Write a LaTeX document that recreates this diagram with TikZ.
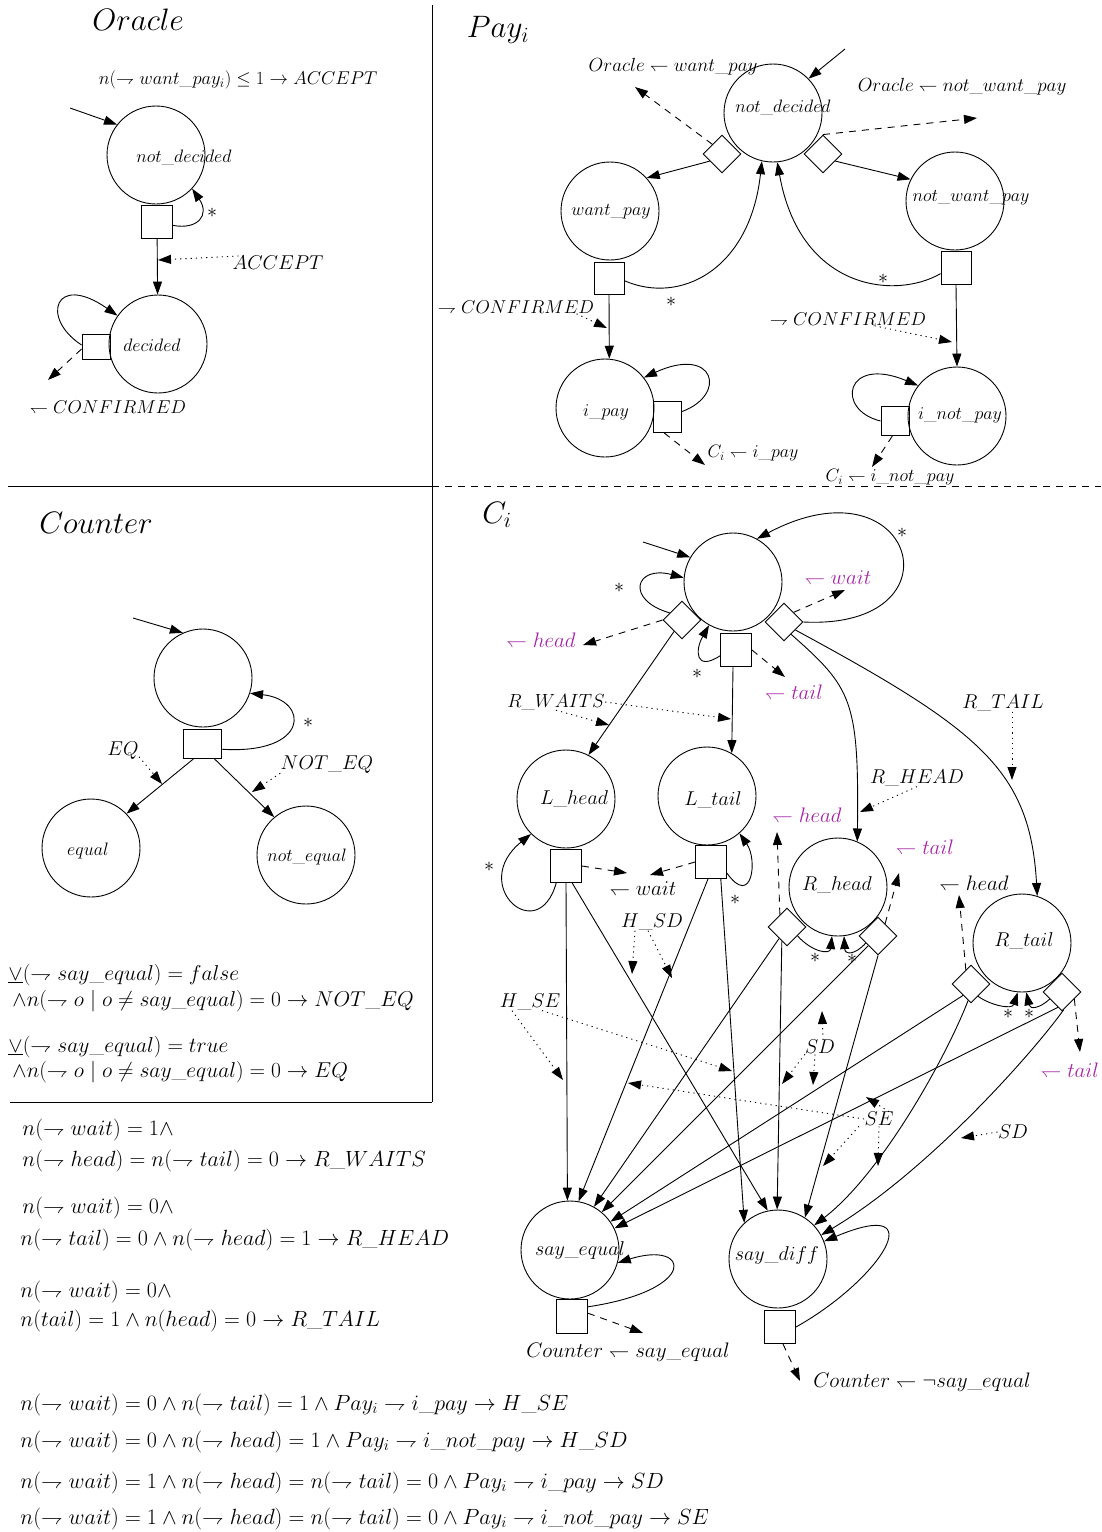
\documentclass[tikz,border=0pt]{standalone}
\usepackage{fix-cm}
\usetikzlibrary{arrows.meta,shapes.geometric}
\definecolor{tokmag}{RGB}{165,35,165}
\newcommand{\setfs}[1]{\fontsize{#1}{#1}\selectfont}
\tikzset{
  arr/.style={-{Triangle[length=13pt,width=9pt]}},
  dasharr/.style={arr,dash pattern=on 7pt off 6pt},
  dotarr/.style={arr,dash pattern=on 1.2pt off 4pt},
  st/.style={circle,draw,minimum size=98pt,inner sep=0pt},
  sq/.style={rectangle,draw,minimum width=30pt,minimum height=33pt,inner sep=0pt},
  dia/.style={diamond,draw,aspect=1,minimum size=38pt,inner sep=0pt},
  lbl/.style={inner sep=0pt,font=\setfs{#1}},
  lbl/.default=20,
  mlbl/.style={lbl=21,text=tokmag},
  frm/.style={inner sep=0pt,anchor=west,font=\setfs{#1}},
  frm/.default=22,
}
\begin{document}
\begin{tikzpicture}[x=1pt,y=-1pt,line width=0.9pt]
\useasboundingbox (0,0) rectangle (1101,1532);
% panel rules
\draw (432,5) -- (432,1102);
\draw (8,486) -- (432,486);
\draw[dash pattern=on 7pt off 6pt] (432,486) -- (1101,486);
\draw (10,1102) -- (432,1102);

%%%%%%%% Oracle
\node[lbl=31] (o-title) at (138,20) {$Oracle$};
\node[lbl=18.5] (o-rule) at (238,80) {$n(\rightharpoondown want\_pay_i) \leq 1 \rightarrow ACCEPT$};
\node[st] (o-nd) at (156,155) {};
\node[lbl=18] (o-nd-t) at (184,157) {$not\_decided$};
\coordinate (o-in) at (70,108);
\draw[arr] (o-in) -- (o-nd.142);
\node[sq,minimum width=31pt] (o-b1) at (157,222) {};
\draw[arr] (o-b1.-12) .. controls (198,230) and (210,215) .. (o-nd.-43);
\node[lbl] (o-star) at (212,213) {$*$};
\node[st] (o-dec) at (158,344) {};
\node[lbl=18] (o-dec-t) at (152,345) {$decided$};
\draw[arr] (o-b1) -- (o-dec);
\node[lbl] (o-acc) at (278,263) {$ACCEPT$};
\coordinate (o-acc-e) at (158,260);
\draw[dotarr] (o-acc.168) -- (o-acc-e);
\node[sq,minimum width=28pt,minimum height=25pt] (o-b2) at (96,347) {};
\draw[arr] (o-b2.172) .. controls (40,318) and (55,272) .. (o-dec.145);
\coordinate (o-conf-e) at (48,380);
\draw[dasharr] (o-b2.188) -- (o-conf-e);
\node[lbl=18.6] (o-conf) at (108,407) {$\leftharpoondown CONFIRMED$};

%%%%%%%% Pay_i
\node[lbl=31] (p-title) at (498,30) {$Pay_i$};
\node[st] (p-nd) at (773,113) {};
\node[lbl=18] (p-nd-t) at (783,107) {$not\_decided$};
\coordinate (p-in) at (845,49);
\draw[arr] (p-in) -- (p-nd.44);
\node[dia] (p-dl) at (722,154) {};
\node[dia] (p-dr) at (823,154) {};
\node[lbl=19] (p-owp) at (673,67) {$Oracle \leftharpoondown want\_pay$};
\coordinate (p-owp-e) at (635,87);
\draw[dasharr] (p-dl.135) -- (p-owp-e);
\node[lbl=19] (p-onwp) at (962,87) {$Oracle \leftharpoondown not\_want\_pay$};
\coordinate (p-onwp-e) at (977,118);
\draw[dasharr] (p-dr.north) -- (p-onwp-e);
\node[st] (p-wp) at (610,211) {};
\node[lbl=18] (p-wp-t) at (611,212) {$want\_pay$};
\node[st] (p-nwp) at (955,201) {};
\node[lbl=18] (p-nwp-t) at (971,198) {$not\_want\_pay$};
\draw[arr] (p-dl.210) -- (p-wp.42);
\draw[arr] (p-dr.-30) -- (p-nwp.154);
\node[sq,minimum height=32pt] (p-b1) at (609,278) {};
\node[sq] (p-b2) at (956,268) {};
\draw[arr] (p-b1.-10) .. controls (680,305) and (750,270) .. (p-nd.-103);
\node[lbl] (p-s1) at (671,302) {$*$};
\draw[arr] (p-b2.200) .. controls (895,300) and (800,290) .. (p-nd.-85);
\node[lbl] (p-s2) at (883,279) {$*$};
\node[st] (p-ip) at (605,408) {};
\node[lbl=18] (p-ip-t) at (606,412) {$i\_pay$};
\draw[arr] (p-b1.south) -- (p-ip.85);
\node[lbl=18.6] (p-c1) at (516,307) {$\rightharpoondown CONFIRMED$};
\coordinate (p-c1-e) at (607,328);
\draw[dotarr] ([xshift=-18pt]p-c1.south east) -- (p-c1-e);
\node[st] (p-inp) at (957,416) {};
\node[lbl=18] (p-inp-t) at (960,415) {$i\_not\_pay$};
\draw[arr] (p-b2.south) -- (p-inp.north);
\node[lbl=18.6] (p-c2) at (848,319) {$\rightharpoondown CONFIRMED$};
\coordinate (p-c2-e) at (952,342);
\draw[dotarr] ([xshift=-52pt]p-c2.south east) -- (p-c2-e);
\node[sq,minimum width=28pt,minimum height=31pt] (p-bi) at (667,417) {};
\draw[arr] (p-bi.20) .. controls (728,395) and (715,345) .. (p-ip.38);
\coordinate (p-bi-e) at (705,465);
\draw[dasharr] (p-bi.-100) -- (p-bi-e);
\node[lbl=18] (p-ci1) at (753,453) {$C_i \leftharpoondown i\_pay$};
\node[sq,minimum width=28pt,minimum height=29pt] (p-bn) at (895,421) {};
\draw[arr] (p-bn.west) .. controls (835,410) and (845,355) .. (p-inp.142);
\coordinate (p-bn-e) at (872,467);
\draw[dasharr] (p-bn.-100) -- (p-bn-e);
\node[lbl=18] (p-ci2) at (890,477) {$C_i \leftharpoondown i\_not\_pay$};

%%%%%%%% Counter
\node[lbl=31] (k-title) at (96,523) {$Counter$};
\node[st] (k-s) at (203,678) {};
\coordinate (k-in) at (133,618);
\draw[arr] (k-in) -- (k-s.114);
\node[sq,minimum width=38pt,minimum height=29pt] (k-b) at (202,744) {};
\draw[arr] (k-b.-15) .. controls (310,755) and (310,700) .. (k-s.-18);
\node[lbl] (k-star) at (308,723) {$*$};
\node[st] (k-eq) at (91,848) {};
\node[lbl=18] (k-eq-t) at (88,851) {$equal$};
\node[st] (k-neq) at (306,855) {};
\node[lbl=18] (k-neq-t) at (307,857) {$not\_equal$};
\draw[arr] (k-b.-120) -- (k-eq.44);
\draw[arr] (k-b.-50) -- (k-neq.130);
\node[lbl] (k-eqlbl) at (123,751) {$EQ$};
\coordinate (k-eqlbl-e) at (162,784);
\draw[dotarr] (k-eqlbl.-20) -- (k-eqlbl-e);
\node[lbl] (k-neqlbl) at (327,765) {$NOT\_EQ$};
\coordinate (k-neqlbl-e) at (252,792);
\draw[dotarr] (k-neqlbl.-170) -- (k-neqlbl-e);
\node[frm=21.5] (k-f1) at (8,975) {$\underline{\vee}(\rightharpoondown say\_equal) = false$};
\node[frm=21.5] (k-f2) at (12,1001) {$\wedge n(\rightharpoondown o \mid o \neq say\_equal) = 0 \rightarrow NOT\_EQ$};
\node[frm=21.5] (k-f3) at (8,1047) {$\underline{\vee}(\rightharpoondown say\_equal) = true$};
\node[frm=21.5] (k-f4) at (12,1072) {$\wedge n(\rightharpoondown o \mid o \neq say\_equal) = 0 \rightarrow EQ$};

%%%%%%%% guard definitions
\node[frm] (g1) at (22,1130) {$n(\rightharpoondown wait) = 1 \wedge$};
\node[frm] (g2) at (22,1161) {$n(\rightharpoondown head) = n(\rightharpoondown tail) = 0 \rightarrow R\_WAITS$};
\node[frm] (g3) at (22,1208) {$n(\rightharpoondown wait) = 0 \wedge$};
\node[frm] (g4) at (20,1240) {$n(\rightharpoondown tail) = 0 \wedge n(\rightharpoondown head) = 1 \rightarrow R\_HEAD$};
\node[frm] (g5) at (20,1292) {$n(\rightharpoondown wait) = 0 \wedge$};
\node[frm] (g6) at (20,1321) {$n(tail) = 1 \wedge n(head) = 0 \rightarrow R\_TAIL$};
\node[frm] (g7) at (20,1405) {$n(\rightharpoondown wait) = 0 \wedge n(\rightharpoondown tail) = 1 \wedge Pay_i \rightharpoondown i\_pay \rightarrow H\_SE$};
\node[frm] (g8) at (20,1442) {$n(\rightharpoondown wait) = 0 \wedge n(\rightharpoondown head) = 1 \wedge Pay_i \rightharpoondown i\_not\_pay \rightarrow H\_SD$};
\node[frm] (g9) at (20,1483) {$n(\rightharpoondown wait) = 1 \wedge n(\rightharpoondown head) = n(\rightharpoondown tail) = 0 \wedge Pay_i \rightharpoondown i\_pay \rightarrow SD$};
\node[frm] (g10) at (20,1519) {$n(\rightharpoondown wait) = 1 \wedge n(\rightharpoondown head) = n(\rightharpoondown tail) = 0 \wedge Pay_i \rightharpoondown i\_not\_pay \rightarrow SE$};

%%%%%%%% C_i
\node[lbl=31] (c-title) at (497,515) {$C_i$};
\node[st] (c0) at (733,582) {};
\coordinate (c-in) at (643,542);
\draw[arr] (c-in) -- (c0.150);
\node[dia] (c0l) at (682,620) {};
\node[dia] (c0r) at (784,622) {};
\node[sq,minimum width=31pt] (c0b) at (736,650) {};
\draw[arr] (c0r.east) .. controls (965,630) and (915,455) .. (c0.61);
\node[lbl] (c-s1) at (902,533) {$*$};
\draw[arr] (c0l.150) .. controls (625,600) and (635,565) .. (c0.175);
\node[lbl] (c-s2) at (619,588) {$*$};
\draw[arr] (c0b.200) .. controls (695,672) and (695,650) .. (c0.-119);
\node[lbl] (c-s3) at (697,674) {$*$};
\coordinate (c-h-e) at (583,645);
\draw[dasharr] (c0l.west) -- (c-h-e);
\node[mlbl] (c-h) at (541,640) {$\leftharpoondown head$};
\coordinate (c-w-e) at (845,590);
\draw[dasharr] (c0r.45) -- (c-w-e);
\node[mlbl] (c-w) at (838,578) {$\leftharpoondown wait$};
\coordinate (c-t-e) at (785,677);
\draw[dasharr] (c0b.east) -- (c-t-e);
\node[mlbl] (c-t) at (794,692) {$\leftharpoondown tail$};

\node[st] (lh) at (566,799) {};
\node[lbl] (lh-t) at (574,799) {$L\_head$};
\node[st] (lt) at (707,796) {};
\node[lbl] (lt-t) at (713,800) {$L\_tail$};
\node[st] (rh) at (838,887) {};
\node[lbl] (rh-t) at (837,885) {$R\_head$};
\node[st] (rt) at (1022,943) {};
\node[lbl] (rt-t) at (1024,941) {$R\_tail$};
\draw[arr] (c0l) -- (lh.63);
\draw[arr] (c0b.-100) -- (lt.60);
\draw[arr] (c0r.-60) .. controls (852,688) and (859,700) .. (rh.67);
\draw[arr] (c0r.-35) .. controls (980,730) and (1030,770) .. (rt.72);

\node[lbl=19] (c-rw) at (556,702) {$R\_WAITS$};
\coordinate (c-rw-e1) at (731,719);
\coordinate (c-rw-e2) at (609,725);
\draw[dotarr] (c-rw.east) -- (c-rw-e1);
\draw[dotarr] (c-rw.south) -- (c-rw-e2);
\node[lbl] (c-rt) at (1003,703) {$R\_TAIL$};
\coordinate (c-rt-e) at (1012,780);
\draw[dotarr] ([xshift=9pt]c-rt.south) -- (c-rt-e);
\node[lbl] (c-rhd) at (917,778) {$R\_HEAD$};
\coordinate (c-rhd-e) at (860,812);
\draw[dotarr] (c-rhd.south) -- (c-rhd-e);

% L_head / L_tail
\node[sq,minimum width=31pt] (lhb) at (566,866) {};
\node[sq,minimum width=31pt] (ltb) at (711,862) {};
\draw[arr] (lhb.-120) .. controls (538,948) and (468,885) .. (lh.-135);
\node[lbl] (c-s4) at (489,867) {$*$};
\draw[arr] (ltb.-35) .. controls (752,908) and (758,860) .. (lt.-49);
\node[lbl] (c-s5) at (735,900) {$*$};
\coordinate (c-lw-e1) at (627,873);
\coordinate (c-lw-e2) at (650,875);
\draw[dasharr] (lhb.east) -- (c-lw-e1);
\draw[dasharr] (ltb.west) -- (c-lw-e2);
\node[lbl=21] (c-lw) at (643,889) {$\leftharpoondown wait$};

\node[st] (se) at (570,1250) {};
\node[lbl] (se-t) at (580,1250) {$say\_equal$};
\node[st] (sd) at (778,1259) {};
\node[lbl] (sd-t) at (777,1255) {$say\_diff$};
\draw[arr] (lhb.south) -- (se.93);
\draw[arr] (lhb.-70) -- (sd.102);
\draw[arr] (ltb.-100) -- (se.80);
\draw[arr] (ltb.-60) -- (sd.133);

% R_head
\node[dia] (rhl) at (787,927) {};
\node[dia] (rhr) at (878,936) {};
\draw[arr] (rhl.-40) .. controls (812,952) and (830,955) .. (rh.-97);
\draw[arr] (rhr.-150) .. controls (855,955) and (845,955) .. (rh.-83);
\node[lbl] (c-s6) at (815,958) {$*$};
\node[lbl] (c-s7) at (852,959) {$*$};
\coordinate (rhl-e) at (777,832);
\draw[dasharr] (rhl.120) -- (rhl-e);
\node[mlbl] (c-rhh) at (807,815) {$\leftharpoondown head$};
\coordinate (rhr-e) at (899,873);
\draw[dasharr] (rhr.60) -- (rhr-e);
\node[mlbl] (c-rht) at (925,847) {$\leftharpoondown tail$};
\draw[arr] (rhl) -- (se.61);
\draw[arr] (rhl.-110) -- (sd.91);
\draw[arr] (rhr) -- (se.50);
\draw[arr] (rhr.south) -- (sd.57);

% R_tail
\node[dia] (rtl) at (971,984) {};
\node[dia] (rtr) at (1062,992) {};
\draw[arr] (rtl.-60) .. controls (990,1005) and (1012,1010) .. (rt.-95);
\draw[arr] (rtr.-150) .. controls (1040,1008) and (1030,1010) .. (rt.-85);
\node[lbl] (c-s8) at (1008,1014) {$*$};
\node[lbl] (c-s9) at (1029,1014) {$*$};
\coordinate (rtl-e) at (959,895);
\draw[dasharr] (rtl.110) -- (rtl-e);
\node[lbl=21] (c-rth) at (974,883) {$\leftharpoondown head$};
\coordinate (rtr-e) at (1080,1052);
\draw[dasharr] (rtr.-30) -- (rtr-e);
\node[mlbl] (c-rtt) at (1070,1070) {$\leftharpoondown tail$};
\draw[arr] (rtl.-125) -- (se.35);
\draw[arr] (rtl.-100) .. controls (945,1060) and (880,1175) .. (sd.43);
\draw[arr] (rtr.-105) -- (se.26);
\draw[arr] (rtr.-85) .. controls (1035,1050) and (930,1170) .. (sd.29);

% guard labels
\node[lbl] (c-hsd) at (652,922) {$H\_SD$};
\coordinate (c-hsd-e1) at (632,974);
\coordinate (c-hsd-e2) at (672,978);
\draw[dotarr] ([xshift=-17pt]c-hsd.south) -- (c-hsd-e1);
\draw[dotarr] ([xshift=-4pt]c-hsd.south) -- (c-hsd-e2);
\node[lbl] (c-hse) at (530,1002) {$H\_SE$};
\coordinate (c-hse-e1) at (563,1080);
\coordinate (c-hse-e2) at (732,1071);
\draw[dotarr] ([xshift=-18pt]c-hse.south) -- (c-hse-e1);
\draw[dotarr] ([xshift=12pt]c-hse.south) -- (c-hse-e2);
\node[lbl] (c-sd1) at (820,1047) {$SD$};
\coordinate (c-sd1-e1) at (822,1011);
\coordinate (c-sd1-e2) at (782,1084);
\coordinate (c-sd1-e3) at (813,1085);
\draw[dotarr] ([xshift=3pt]c-sd1.north) -- (c-sd1-e1);
\draw[dotarr] ([xshift=-15pt]c-sd1.south) -- (c-sd1-e2);
\draw[dotarr] ([xshift=-5pt]c-sd1.south) -- (c-sd1-e3);
\node[lbl] (c-se) at (879,1119) {$SE$};
\coordinate (c-se-e1) at (866,1097);
\coordinate (c-se-e2) at (628,1083);
\coordinate (c-se-e3) at (823,1166);
\coordinate (c-se-e4) at (878,1166);
\draw[dotarr] ([xshift=10pt]c-se.north) -- (c-se-e1);
\draw[dotarr] (c-se.west) -- (c-se-e2);
\draw[dotarr] ([xshift=-20pt]c-se.south) -- (c-se-e3);
\draw[dotarr] (c-se.south) -- (c-se-e4);
\node[lbl] (c-sd2) at (1013,1132) {$SD$};
\coordinate (c-sd2-e) at (961,1138);
\draw[dotarr] (c-sd2.west) -- (c-sd2-e);

% say_equal / say_diff
\node[sq,minimum width=31pt,minimum height=34pt] (seb) at (572,1316) {};
\draw[arr] (seb.30) .. controls (700,1290) and (690,1240) .. (se.-15);
\coordinate (seb-e) at (643,1333);
\draw[dasharr] (seb.10) -- (seb-e);
\node[lbl=21] (c-cse) at (628,1352) {$Counter \leftharpoondown say\_equal$};
\node[sq,minimum width=31pt] (sdb) at (780,1327) {};
\draw[arr] (sdb.east) .. controls (880,1280) and (935,1195) .. (sd.21);
\coordinate (sdb-e) at (800,1381);
\draw[dasharr] (sdb.-80) -- (sdb-e);
\node[lbl=21] (c-csd) at (922,1382) {$Counter \leftharpoondown \neg say\_equal$};
\end{tikzpicture}
\end{document}
